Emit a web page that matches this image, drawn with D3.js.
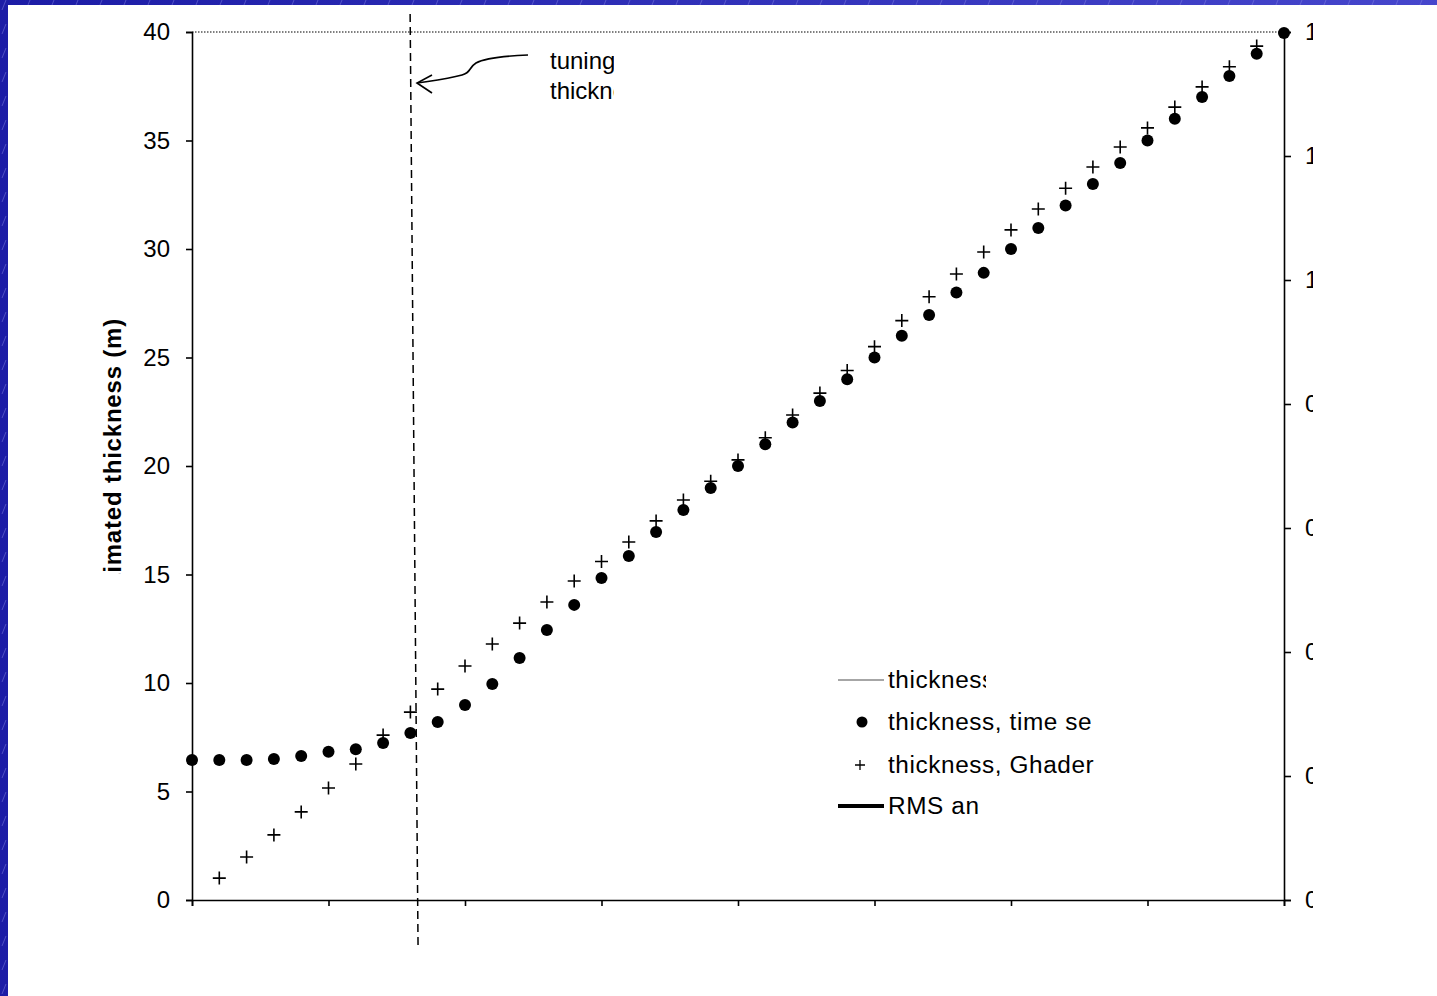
<!DOCTYPE html>
<html>
<head>
<meta charset="utf-8">
<script src="https://cdn.jsdelivr.net/npm/d3@7"></script>
<style>
  html, body { margin: 0; padding: 0; background: #fff; }
  svg { display: block; }
  text { font-family: "Liberation Sans", Arial, sans-serif; fill: #000; }
</style>
</head>
<body>
<svg id="chart" width="1437" height="996"></svg>
<script>
// True ice thickness (m) used for each synthetic case
const trueThickness = [0, 1, 2, 3, 4, 5, 6, 7, 8, 9, 10, 11, 12, 13, 14, 15, 16, 17, 18, 19, 20,
  21, 22, 23, 24, 25, 26, 27, 28, 29, 30, 31, 32, 33, 34, 35, 36, 37, 38, 39, 40];

// Thickness estimated from the time series (m)
const timeSeriesThickness = [6.45, 6.45, 6.45, 6.5, 6.64, 6.83, 6.95, 7.23, 7.7, 8.2, 8.99,
  9.95, 11.15, 12.44, 13.6, 14.84, 15.85, 16.96, 17.97, 18.99, 20.0,
  21.0, 22.0, 23.0, 24.0, 25.0, 26.0, 26.96, 28.0, 28.9, 30.0,
  30.97, 32.0, 33.0, 33.96, 35.0, 36.0, 37.0, 37.97, 39.0, 39.95];

// Thickness estimated with the Ghader method (m); no estimate at the ends
const ghaderThickness = [null, 1.01, 1.98, 3.0, 4.06, 5.16, 6.27, 7.6, 8.66, 9.72, 10.78,
  11.8, 12.76, 13.73, 14.7, 15.6, 16.5, 17.47, 18.43, 19.3, 20.28,
  21.3, 22.35, 23.36, 24.4, 25.5, 26.7, 27.8, 28.85, 29.86, 30.88,
  31.84, 32.8, 33.78, 34.7, 35.58, 36.54, 37.47, 38.4, 39.35, null];

const leftTicks = [0, 5, 10, 15, 20, 25, 30, 35, 40];
const bottomTicks = [0, 5, 10, 15, 20, 25, 30, 35, 40];
const rightTicks = [0, 0.2, 0.4, 0.6, 0.8, 1.0, 1.2, 1.4];
const tuningThickness = [7.99, 8.28]; // top and bottom of the tuning marker

const legendItems = ["thickness", "thickness, time series", "thickness, Ghader", "RMS anomaly"];
const yTitle = "Estimated thickness (m)";
const noteLines = ["tuning", "thickness"];

const svg = d3.select("#chart");
const W = 1437, H = 996;

// slide background: blue frame with faint diagonal hatch
const defs = svg.append("defs");
const grad = defs.append("linearGradient").attr("id", "frame").attr("x1", 0).attr("x2", 1).attr("y1", 0).attr("y2", 0);
grad.append("stop").attr("offset", 0).attr("stop-color", "#1c1ca6");
grad.append("stop").attr("offset", 1).attr("stop-color", "#4646cc");
const hatch = defs.append("pattern").attr("id", "hatch").attr("width", 24).attr("height", 24)
  .attr("patternUnits", "userSpaceOnUse");
hatch.append("path").attr("d", "M6,0 L2,10 M18,12 L14,22")
  .attr("stroke", "#8a8ae6").attr("stroke-width", 1).attr("opacity", 0.45);

svg.append("rect").attr("width", W).attr("height", H).attr("fill", "url(#frame)");
svg.append("rect").attr("width", W).attr("height", H).attr("fill", "url(#hatch)");
svg.append("rect").attr("x", 8).attr("y", 5).attr("width", W - 8).attr("height", H - 5).attr("fill", "#fff");

// plot geometry
const x = d3.scaleLinear().domain([0, 40]).range([192, 1284]);
const y = d3.scaleLinear().domain([0, 40]).range([900, 32]);
const yR = d3.scaleLinear().domain([0, 1.4]).range([900, 32]);

// clip regions for text boxes that overflow their frames
function clipRect(id, x0, y0, w, h) {
  return defs.append("clipPath").attr("id", id).append("rect")
    .attr("x", x0).attr("y", y0).attr("width", w).attr("height", h);
}
clipRect("clipRight", 1290, 0, 23, H);
const titleClip = clipRect("clipTitle", 0, 0, 200, 574);
clipRect("clipNote", 540, 30, 74, 90);
clipRect("clipLeg0", 880, 660, 106, 40);
clipRect("clipLeg1", 880, 700, 211, 40);
clipRect("clipLeg2", 880, 745, 215, 40);
clipRect("clipLeg3", 880, 786, 100, 40);

// top border of plot area (dotted)
svg.append("line")
  .attr("x1", x(0)).attr("x2", x(40)).attr("y1", y(40)).attr("y2", y(40))
  .attr("stroke", "#000").attr("stroke-width", 1.2).attr("stroke-dasharray", "1.5,1.5");

// axes
const axisFont = "24px";
const gL = svg.append("g").attr("transform", `translate(${x(0)},0)`)
  .call(d3.axisLeft(y).tickValues(leftTicks).tickSize(6).tickPadding(16).tickFormat(d3.format("d")));
gL.selectAll("text").style("font-size", axisFont).style("font-family", "Liberation Sans, Arial, sans-serif");

const gB = svg.append("g").attr("transform", `translate(0,${y(0)})`)
  .call(d3.axisBottom(x).tickValues(bottomTicks).tickSize(6).tickFormat(""));

const gR = svg.append("g").attr("transform", `translate(${x(40)},0)`)
  .call(d3.axisRight(yR).tickValues(rightTicks).tickSize(7).tickPadding(14).tickFormat(d3.format(".1f")));
gR.selectAll("text").style("font-size", axisFont).style("font-family", "Liberation Sans, Arial, sans-serif");

// right-axis value labels sit in a narrow frame and are cut at its edge;
// move them into a clipped group so the tick marks stay whole
const rightLabels = gR.selectAll(".tick text").nodes();
const clipWrap = svg.append("g").attr("clip-path", "url(#clipRight)");
rightLabels.forEach(n => {
  const tr = d3.select(n.parentNode).attr("transform");
  const g = clipWrap.append("g").attr("transform", `translate(${x(40)},0) ${tr}`);
  g.node().appendChild(n);
});

[gL, gB, gR].forEach(g => {
  g.selectAll(".domain").attr("stroke", "#000").attr("stroke-width", 1.6);
  g.selectAll(".tick line").attr("stroke", "#000").attr("stroke-width", 1.6);
});

// y-axis title (bold, rotated); its frame cuts it just before "imated"
const titleTop = 318;
const titleText = svg.append("g").attr("clip-path", "url(#clipTitle)")
  .append("text")
  .attr("transform", `translate(121,${titleTop}) rotate(-90)`)
  .attr("text-anchor", "end")
  .style("font-size", "24px").style("font-weight", "bold").style("letter-spacing", "0.8px")
  .text(yTitle);
{
  const node = titleText.node();
  const tEnd = node.getEndPositionOfChar(2).x;    // end of "t" in "Est"
  const iStart = node.getStartPositionOfChar(3).x; // start of "i"
  const cut = titleTop - (tEnd + iStart) / 2 + 1;
  titleClip.attr("height", cut);
}

// tuning marker: dashed vertical line
svg.append("line")
  .attr("x1", x(tuningThickness[0])).attr("y1", 14)
  .attr("x2", x(tuningThickness[1])).attr("y2", 945)
  .attr("stroke", "#000").attr("stroke-width", 1.5).attr("stroke-dasharray", "8,5");

// annotation arrow
svg.append("path")
  .attr("d", "M528,55 C505,56 485,58 476,63 C468,68 472,72 462,75 C448,79 430,81 417,83")
  .attr("fill", "none").attr("stroke", "#000").attr("stroke-width", 1.6);
svg.append("path")
  .attr("d", "M432,75 L417,83 L432,93")
  .attr("fill", "none").attr("stroke", "#000").attr("stroke-width", 1.6);

const note = svg.append("g").attr("clip-path", "url(#clipNote)");
noteLines.forEach((t, i) => {
  note.append("text").attr("x", 550).attr("y", 69 + i * 30).style("font-size", "24px").text(t);
});

// data points
function plusPath(cx, cy, s) {
  return `M${cx - s},${cy} H${cx + s} M${cx},${cy - s} V${cy + s}`;
}
const pts = svg.append("g");
pts.selectAll("circle.ts")
  .data(trueThickness.map((t, i) => [t, timeSeriesThickness[i]]))
  .join("circle").attr("class", "ts")
  .attr("cx", d => x(d[0])).attr("cy", d => y(d[1])).attr("r", 6).attr("fill", "#000");

pts.selectAll("path.gh")
  .data(trueThickness.map((t, i) => [t, ghaderThickness[i]]).filter(d => d[1] != null))
  .join("path").attr("class", "gh")
  .attr("d", d => plusPath(x(d[0]), y(d[1]), 6.5))
  .attr("stroke", "#000").attr("stroke-width", 1.6).attr("fill", "none");

// legend
const legY = [680, 722, 765, 806];
const leg = svg.append("g");
leg.append("line").attr("x1", 838).attr("x2", 884).attr("y1", legY[0]).attr("y2", legY[0])
  .attr("stroke", "#888").attr("stroke-width", 1.6);
leg.append("circle").attr("cx", 862).attr("cy", legY[1]).attr("r", 5.5).attr("fill", "#000");
leg.append("path").attr("d", plusPath(860, legY[2], 5)).attr("stroke", "#000").attr("stroke-width", 1.3);
leg.append("line").attr("x1", 838).attr("x2", 884).attr("y1", legY[3]).attr("y2", legY[3])
  .attr("stroke", "#000").attr("stroke-width", 4);
legendItems.forEach((t, i) => {
  leg.append("g").attr("clip-path", `url(#clipLeg${i})`)
    .append("text").attr("transform", `translate(888,${legY[i] + 8}) scale(1.06,1)`)
    .style("font-size", "23px").style("letter-spacing", "0.55px").text(t);
});
</script>
</body>
</html>
